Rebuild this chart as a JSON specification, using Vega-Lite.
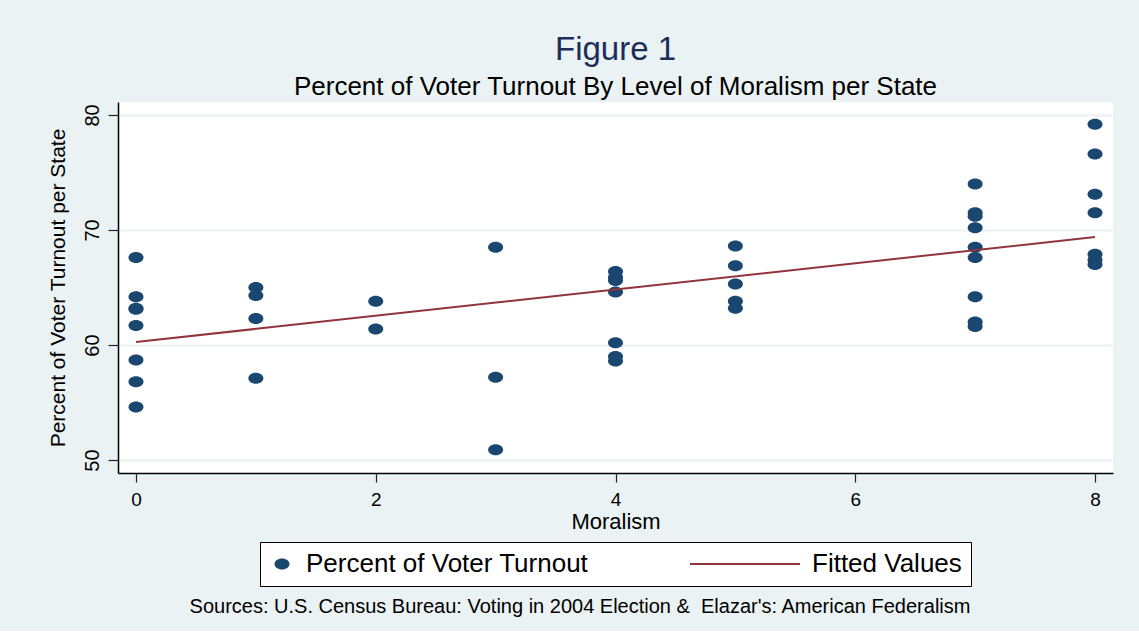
{
  "$schema": "https://vega.github.io/schema/vega-lite/v6.json",
  "background": "#EAF2F3",
  "padding": {"left": 46, "top": 34, "right": 26, "bottom": 14},
  "title": {
    "text": "Sources: U.S. Census Bureau: Voting in 2004 Election & \u00a0Elazar's: American Federalism",
    "orient": "bottom", "anchor": "middle", "font": "Liberation Sans", "fontSize": 20,
    "fontWeight": "normal", "color": "black", "offset": 10
  },
  "vconcat": [
    {
      "width": 995,
      "height": 371,
      "title": {
        "text": "Figure 1",
        "subtitle": "Percent of Voter Turnout By Level of Moralism per State",
        "anchor": "middle", "frame": "group",
        "font": "Liberation Sans", "fontSize": 33, "fontWeight": "normal", "color": "#1C2D5A",
        "subtitleFont": "Liberation Sans", "subtitleFontSize": 26, "subtitleColor": "black",
        "subtitlePadding": 7, "offset": 2
      },
      "layer": [
        {
          "data": {"values": [
            {"Moralism": 0, "Turnout": 67.6, "series": "Percent of Voter Turnout"},
            {"Moralism": 0, "Turnout": 64.2, "series": "Percent of Voter Turnout"},
            {"Moralism": 0, "Turnout": 63.2, "series": "Percent of Voter Turnout"},
            {"Moralism": 0, "Turnout": 63.1, "series": "Percent of Voter Turnout"},
            {"Moralism": 0, "Turnout": 61.7, "series": "Percent of Voter Turnout"},
            {"Moralism": 0, "Turnout": 58.7, "series": "Percent of Voter Turnout"},
            {"Moralism": 0, "Turnout": 56.8, "series": "Percent of Voter Turnout"},
            {"Moralism": 0, "Turnout": 54.6, "series": "Percent of Voter Turnout"},
            {"Moralism": 1, "Turnout": 65.0, "series": "Percent of Voter Turnout"},
            {"Moralism": 1, "Turnout": 64.3, "series": "Percent of Voter Turnout"},
            {"Moralism": 1, "Turnout": 62.3, "series": "Percent of Voter Turnout"},
            {"Moralism": 1, "Turnout": 57.1, "series": "Percent of Voter Turnout"},
            {"Moralism": 2, "Turnout": 63.8, "series": "Percent of Voter Turnout"},
            {"Moralism": 2, "Turnout": 61.4, "series": "Percent of Voter Turnout"},
            {"Moralism": 3, "Turnout": 68.5, "series": "Percent of Voter Turnout"},
            {"Moralism": 3, "Turnout": 57.2, "series": "Percent of Voter Turnout"},
            {"Moralism": 3, "Turnout": 50.9, "series": "Percent of Voter Turnout"},
            {"Moralism": 4, "Turnout": 66.4, "series": "Percent of Voter Turnout"},
            {"Moralism": 4, "Turnout": 65.9, "series": "Percent of Voter Turnout"},
            {"Moralism": 4, "Turnout": 65.6, "series": "Percent of Voter Turnout"},
            {"Moralism": 4, "Turnout": 64.6, "series": "Percent of Voter Turnout"},
            {"Moralism": 4, "Turnout": 60.2, "series": "Percent of Voter Turnout"},
            {"Moralism": 4, "Turnout": 59.0, "series": "Percent of Voter Turnout"},
            {"Moralism": 4, "Turnout": 58.6, "series": "Percent of Voter Turnout"},
            {"Moralism": 5, "Turnout": 68.6, "series": "Percent of Voter Turnout"},
            {"Moralism": 5, "Turnout": 66.9, "series": "Percent of Voter Turnout"},
            {"Moralism": 5, "Turnout": 65.3, "series": "Percent of Voter Turnout"},
            {"Moralism": 5, "Turnout": 63.8, "series": "Percent of Voter Turnout"},
            {"Moralism": 5, "Turnout": 63.2, "series": "Percent of Voter Turnout"},
            {"Moralism": 7, "Turnout": 74.0, "series": "Percent of Voter Turnout"},
            {"Moralism": 7, "Turnout": 71.5, "series": "Percent of Voter Turnout"},
            {"Moralism": 7, "Turnout": 71.2, "series": "Percent of Voter Turnout"},
            {"Moralism": 7, "Turnout": 70.2, "series": "Percent of Voter Turnout"},
            {"Moralism": 7, "Turnout": 68.5, "series": "Percent of Voter Turnout"},
            {"Moralism": 7, "Turnout": 67.6, "series": "Percent of Voter Turnout"},
            {"Moralism": 7, "Turnout": 64.2, "series": "Percent of Voter Turnout"},
            {"Moralism": 7, "Turnout": 62.0, "series": "Percent of Voter Turnout"},
            {"Moralism": 7, "Turnout": 61.6, "series": "Percent of Voter Turnout"},
            {"Moralism": 8, "Turnout": 79.2, "series": "Percent of Voter Turnout"},
            {"Moralism": 8, "Turnout": 76.6, "series": "Percent of Voter Turnout"},
            {"Moralism": 8, "Turnout": 73.1, "series": "Percent of Voter Turnout"},
            {"Moralism": 8, "Turnout": 71.5, "series": "Percent of Voter Turnout"},
            {"Moralism": 8, "Turnout": 67.9, "series": "Percent of Voter Turnout"},
            {"Moralism": 8, "Turnout": 67.4, "series": "Percent of Voter Turnout"},
            {"Moralism": 8, "Turnout": 67.0, "series": "Percent of Voter Turnout"}
          ]},
          "mark": {"type": "point", "filled": true, "opacity": 1},
          "encoding": {
            "x": {
              "field": "Moralism", "type": "quantitative", "title": "Moralism",
              "scale": {"domain": [-0.15, 8.15], "nice": false, "zero": false},
              "axis": {"values": [0, 2, 4, 6, 8], "format": "d", "grid": false}
            },
            "y": {
              "field": "Turnout", "type": "quantitative", "title": "Percent of Voter Turnout per State",
              "scale": {"domain": [48.87, 81.13], "nice": false, "zero": false},
              "axis": {"values": [50, 60, 70, 80], "format": "d", "grid": true}
            },
            "color": {
              "field": "series", "type": "nominal",
              "scale": {"domain": ["Percent of Voter Turnout", "Fitted Values"], "range": ["#1A476F", "#90353B"]},
              "legend": {
                "title": null,
                "encode": {"symbols": {"update": {"stroke": {"signal": "datum.value === 'Fitted Values' ? '#90353B' : 'transparent'"}}}}
              }
            },
            "shape": {
              "field": "series", "type": "nominal",
              "scale": {"domain": ["Percent of Voter Turnout", "Fitted Values"], "range": ["M-1.364,0A1.364,1,0,1,0,1.364,0A1.364,1,0,1,0,-1.364,0Z", "M-1,0H1"]},
              "legend": {"title": null}
            },
            "size": {
              "field": "series", "type": "nominal",
              "scale": {"domain": ["Percent of Voter Turnout", "Fitted Values"], "range": [121, 12100]},
              "legend": {"title": null}
            }
          }
        },
        {
          "data": {"values": [
            {"Moralism": 0, "Fitted": 60.26},
            {"Moralism": 8, "Fitted": 69.39}
          ]},
          "mark": {"type": "line", "color": "#90353B", "strokeWidth": 2},
          "encoding": {
            "x": {"field": "Moralism", "type": "quantitative", "title": "Moralism"},
            "y": {"field": "Fitted", "type": "quantitative", "title": "Percent of Voter Turnout per State"}
          }
        }
      ]
    }
  ],
  "config": {
    "view": {"fill": "white", "stroke": null},
    "axis": {
      "labelFont": "Liberation Sans", "titleFont": "Liberation Sans",
      "labelColor": "black", "titleColor": "black", "titleFontWeight": "normal",
      "domainColor": "black", "domainWidth": 1.5, "tickColor": "#222", "tickWidth": 1.2,
      "gridColor": "#EAF2F3", "gridWidth": 2
    },
    "axisX": {"labelFontSize": 19, "tickSize": 9, "labelPadding": 8, "titleFontSize": 22, "titlePadding": 2},
    "axisY": {"labelFontSize": 20, "tickSize": 10, "labelPadding": 10, "labelAngle": 270, "labelAlign": "center", "labelBaseline": "alphabetic", "titleFontSize": 21, "titlePadding": 14},
    "legend": {
      "orient": "bottom", "direction": "horizontal",
      "labelFont": "Liberation Sans", "labelFontSize": 26, "labelColor": "black", "labelLimit": 500,
      "fillColor": "white", "strokeColor": "black", "strokeWidth": 1,
      "padding": 9, "columnPadding": 100, "labelOffset": 11, "clipHeight": 26,
      "offset": 10, "symbolStrokeWidth": 2, "symbolOpacity": 1,
      "layout": {"anchor": "middle"}
    }
  }
}
